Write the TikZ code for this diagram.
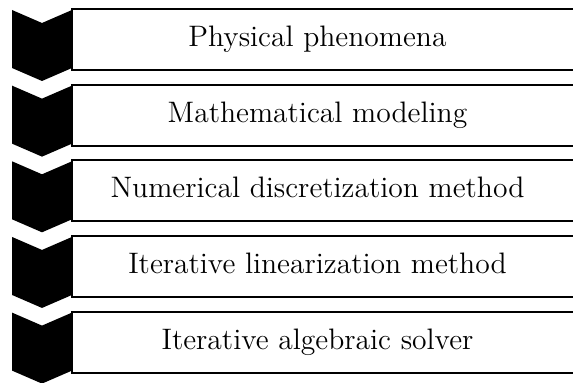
\documentclass[tikz,border=0pt]{standalone}
\begin{document}
\begin{tikzpicture}[x=0.5pt,y=-0.5pt,
  boxframe/.style={draw=black,line width=1pt,fill=white},
  chev/.style={fill=black,draw=none},
  lbl/.style={font=\fontsize{14.8}{17}\selectfont,anchor=base,inner sep=0pt}]
\useasboundingbox (0,0) rectangle (573,383);
\foreach \i/\t in {0/Physical phenomena,1/Mathematical modeling,2/Numerical discretization method,3/Iterative linearization method,4/Iterative algebraic solver}{
  \pgfmathsetmacro{\top}{9+75.65*\i}
  \pgfmathsetmacro{\ct}{\top+1}
  \draw[boxframe] (72,\top) rectangle (580,\top+61);
  \fill[chev] (12,\ct) -- (42,\ct+13) -- (72,\ct) -- (72,\ct+58) -- (42,\ct+71) -- (12,\ct+58) -- cycle;
  \node[lbl] (t\i) at (317.5,\top+37.7) {\t};
}
\end{tikzpicture}
\end{document}
